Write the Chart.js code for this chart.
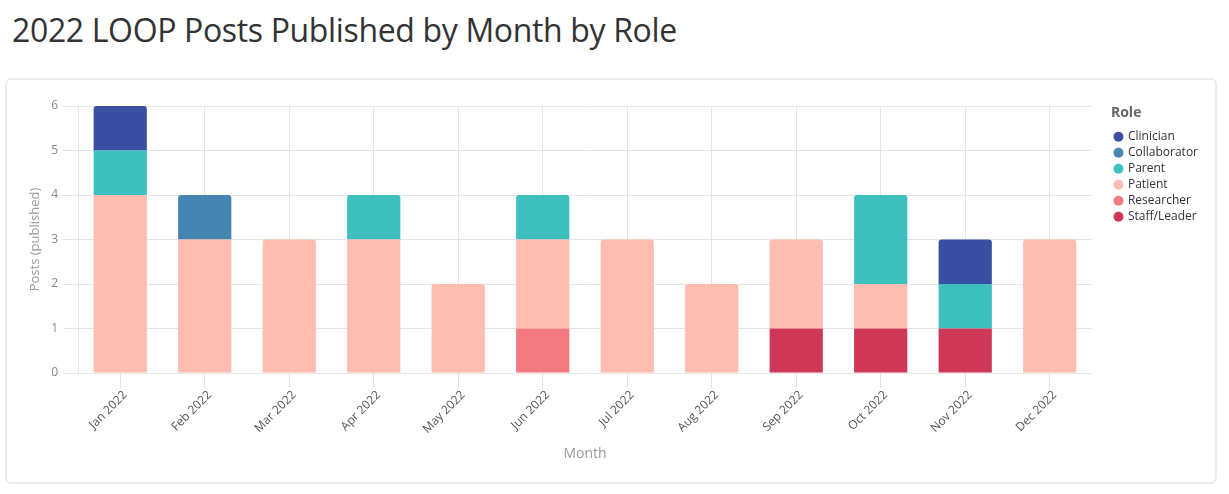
<!DOCTYPE html>
<html>
<head>
<meta charset="utf-8">
<script src="https://cdn.jsdelivr.net/npm/chart.js@4"></script>
<style>
  body { margin: 0; background: #fff; font-family: "Open Sans", sans-serif; }
  h1 { position: absolute; left: 12px; top: 8px; margin: 0; font-size: 32px; font-weight: 500; letter-spacing: -0.35px; color: #333; }
  .card { position: absolute; left: 5px; top: 78px; width: 1208px; height: 402px; border: 2px solid #ececec; border-radius: 6px; }
  .card canvas { position: absolute; left: 0; top: 0; }
</style>
</head>
<body>
<h1>2022 LOOP Posts Published by Month by Role</h1>
<div class="card"><canvas id="myChart" width="1208" height="402"></canvas></div>
<script>
const meses = ["Jan 2022", "Feb 2022", "Mar 2022", "Apr 2022", "May 2022", "Jun 2022",
  "Jul 2022", "Aug 2022", "Sep 2022", "Oct 2022", "Nov 2022", "Dec 2022"];
const yTicks = [0, 1, 2, 3, 4, 5, 6];

const clinician    = [1, 0, 0, 0, 0, 0, 0, 0, 0, 0, 1, 0];
const collaborator = [0, 1, 0, 0, 0, 0, 0, 0, 0, 0, 0, 0];
const parent       = [1, 0, 0, 1, 0, 1, 0, 0, 0, 2, 1, 0];
const patient      = [4, 3, 3, 3, 2, 2, 3, 2, 2, 1, 0, 3];
const researcher   = [0, 0, 0, 0, 0, 1, 0, 0, 0, 0, 0, 0];
const staffLeader  = [0, 0, 0, 0, 0, 0, 0, 0, 1, 1, 1, 0];

// bottom to top
const roles = [
  { label: "Staff/Leader", data: staffLeader, color: "#ce3758" },
  { label: "Researcher", data: researcher, color: "#f47a82" },
  { label: "Patient", data: patient, color: "#ffbcb0" },
  { label: "Parent", data: parent, color: "#3ebfc0" },
  { label: "Collaborator", data: collaborator, color: "#4585b1" },
  { label: "Clinician", data: clinician, color: "#3a4ea2" },
];

function topRadius(c) {
  const i = c.dataIndex, d = c.datasetIndex;
  for (let k = d + 1; k < roles.length; k++) {
    if (roles[k].data[i] > 0) return 0;
  }
  return { topLeft: 3, topRight: 3, bottomLeft: 0, bottomRight: 0 };
}

Chart.defaults.font.family = "'Open Sans', sans-serif";
Chart.defaults.animation = false;

const ctx = document.getElementById("myChart").getContext("2d");
const myChart = new Chart(ctx, {
  type: "bar",
  data: {
    labels: meses,
    datasets: roles.map(r => ({
      label: r.label,
      data: r.data,
      backgroundColor: r.color,
      borderWidth: 0,
      borderRadius: topRadius,
      borderSkipped: false,
      categoryPercentage: 1,
      barPercentage: 0.63,
    })),
  },
  options: {
    responsive: false,
    layout: { padding: { left: 0, top: 26, right: 7, bottom: 0 } },
    plugins: {
      tooltip: { enabled: false },
      legend: {
        position: "right",
        align: "start",
        reverse: true,
        title: {
          display: true,
          text: "Role",
          color: "#666",
          font: { size: 14, weight: "bold" },
          position: "start",
          padding: { top: 0, bottom: 4 },
        },
        labels: {
          usePointStyle: true,
          pointStyle: "circle",
          boxWidth: 7,
          boxHeight: 7,
          padding: 4,
          color: "#333",
          font: { size: 12 },
        },
      },
    },
    scales: {
      x: {
        stacked: true,
        offset: true,
        grid: { color: "#e5e5e5", offset: false, tickLength: 15, tickColor: "#e0e0e0" },
        border: { display: false },
        ticks: { color: "#555", font: { size: 12 }, minRotation: 45, maxRotation: 45, padding: 0, labelOffset: 5 },
        title: { display: true, text: "Month", color: "#999", font: { size: 14 }, padding: { top: 0, bottom: 20 } },
        afterFit: s => { s.height = 109; },
      },
      y: {
        stacked: true,
        min: 0,
        max: 6,
        afterBuildTicks: s => { s.ticks = yTicks.map(v => ({ value: v })); },
        grid: { color: "#e5e5e5", tickLength: 15, tickColor: "#e5e5e5" },
        border: { display: true, color: "#e5e5e5" },
        ticks: { color: "#888", font: { size: 12 }, padding: 5 },
        title: { display: true, text: "Posts (published)", color: "#999", font: { size: 13 }, padding: { top: 20, bottom: 0 } },
        afterFit: s => { s.width = 71; },
      },
      gap: {
        position: "right",
        display: true,
        grid: { display: false },
        border: { display: false },
        ticks: { display: false },
        afterFit: s => { s.width = 19; },
      },
    },
  },
});
</script>
</body>
</html>
